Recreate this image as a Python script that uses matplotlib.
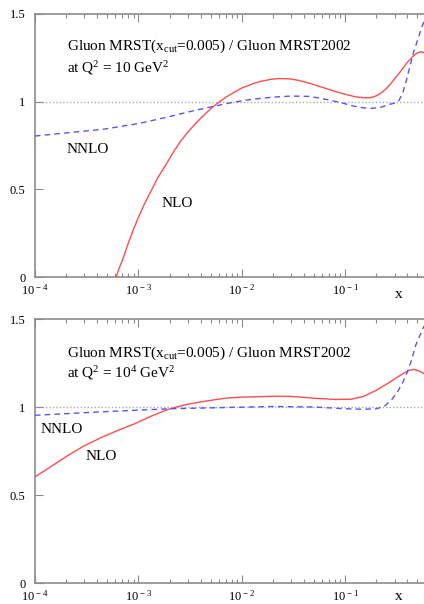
import numpy as np
import matplotlib
matplotlib.use("Agg")
import matplotlib.pyplot as plt
from matplotlib.ticker import FixedLocator, LogLocator, FuncFormatter, NullLocator

plt.rcParams['font.family'] = ['Liberation Serif', 'DejaVu Serif']
plt.rcParams['mathtext.fontset'] = 'custom'
plt.rcParams['mathtext.rm'] = 'Liberation Serif'
plt.rcParams['mathtext.it'] = 'Liberation Serif:italic'

# top panel, Q^2 = 10 GeV^2
nlo_x_top = [6.1e-4, 6.5e-4, 7e-4, 8e-4, 9e-4, 1e-3, 1.15e-3, 1.35e-3, 1.55e-3, 1.8e-3,
             2.24e-3, 2.6e-3, 3e-3, 3.5e-3, 4e-3, 4.6e-3, 5.2e-3, 6e-3, 7e-3, 8.5e-3,
             1e-2, 1.25e-2, 1.5e-2, 1.9e-2, 2.3e-2, 2.9e-2, 3.5e-2, 4.2e-2, 5e-2, 6.3e-2,
             0.08, 0.1, 0.125, 0.153, 0.17, 0.19, 0.21, 0.23, 0.25, 0.278,
             0.30, 0.33, 0.36, 0.40, 0.45, 0.497, 0.54, 0.578]
nlo_y_top = [0.0, 0.05, 0.095, 0.195, 0.275, 0.34, 0.42, 0.50, 0.57, 0.63,
             0.724, 0.78, 0.825, 0.87, 0.905, 0.94, 0.968, 0.997, 1.025, 1.055,
             1.078, 1.10, 1.115, 1.127, 1.132, 1.13, 1.122, 1.11, 1.097, 1.078,
             1.058, 1.042, 1.028, 1.022, 1.022, 1.028, 1.04, 1.056, 1.075, 1.105,
             1.13, 1.16, 1.19, 1.225, 1.258, 1.278, 1.285, 1.28]
nnlo_x_top = [1e-4, 2e-4, 4.5e-4, 1e-3, 2e-3, 3.5e-3, 5.5e-3, 8e-3, 1.2e-2, 2e-2,
              3e-2, 4.5e-2, 6.3e-2, 0.09, 0.12, 0.15, 0.18, 0.22, 0.27, 0.30,
              0.33, 0.36, 0.39, 0.43, 0.46, 0.5, 0.54, 0.578]
nnlo_y_top = [0.804, 0.822, 0.842, 0.875, 0.915, 0.95, 0.975, 0.995, 1.012, 1.026,
              1.032, 1.03, 1.015, 0.995, 0.975, 0.965, 0.962, 0.968, 0.985, 0.992,
              1.005, 1.05, 1.12, 1.22, 1.285, 1.35, 1.41, 1.46]

# bottom panel, Q^2 = 10^4 GeV^2
nlo_x_bot = [1e-4, 1.5e-4, 2.1e-4, 3e-4, 4.5e-4, 6.5e-4, 9.3e-4, 1.35e-3, 1.95e-3, 2.8e-3,
             4.1e-3, 6.9e-3, 1e-2, 2e-2, 3e-2, 5e-2, 8e-2, 0.114, 0.15, 0.2,
             0.26, 0.32, 0.40, 0.46, 0.52, 0.578]
nlo_y_bot = [0.603, 0.67, 0.726, 0.78, 0.83, 0.87, 0.906, 0.95, 0.987, 1.012,
             1.03, 1.05, 1.056, 1.061, 1.06, 1.05, 1.043, 1.044, 1.06, 1.095,
             1.135, 1.17, 1.205, 1.214, 1.205, 1.19]
nnlo_x_bot = [1e-4, 4.5e-4, 2e-3, 6.9e-3, 2e-2, 5e-2, 0.1, 0.15, 0.2, 0.24,
              0.28, 0.32, 0.36, 0.40, 0.44, 0.48, 0.53, 0.578]
nnlo_y_bot = [0.953, 0.973, 0.99, 0.997, 1.003, 1.0, 0.99, 0.987, 0.99, 1.005,
              1.04, 1.085, 1.14, 1.2, 1.27, 1.35, 1.41, 1.46]

y_ticks = [0, 0.5, 1, 1.5]
y_labels = ["0", "0.5", "1", "1.5"]
x_decades = [1e-4, 1e-3, 1e-2, 1e-1]

fig = plt.figure(figsize=(4.24, 6.04), dpi=100)
W, H = 424, 604

def make_ax(top_px, bot_px):
    return fig.add_axes([35 / W, 1 - bot_px / H, 1 - 35 / W, (bot_px - top_px) / H])

ax1 = make_ax(14, 277)
ax2 = make_ax(319, 583)

red = '#ff4d4d'
blue = '#5555ff'
grey = '#8c8c8c'

panels = [
    (ax1, nlo_x_top, nlo_y_top, nnlo_x_top, nnlo_y_top, "10", (0.471, 0.082), (0.266, 0.326),
     (0.863, 0.779), -0.078),
    (ax2, nlo_x_bot, nlo_y_bot, nnlo_x_bot, nnlo_y_bot, "10$^4$", (0.568, 0.013), (0.466, 0.129),
     (0.856, 0.780), -0.064),
]

for ax, nx, ny, nnx, nny, q2, nnlo_pos, nlo_pos, title_y, xlab_y in panels:
    ax.set_xscale('log')
    ax.set_xlim(1e-4, 0.578)
    ax.set_ylim(0, 1.5)
    ax.axhline(1.0, color='#aaaaaa', lw=1.0, ls=(0, (1, 1.5)), zorder=1)
    ax.plot(nx, ny, color=red, lw=1.0, zorder=3)
    ax.plot(nnx, nny, color=blue, lw=1.0, ls=(0, (4, 3)), zorder=3)

    ax.spines['right'].set_visible(False)
    for s in ['left', 'bottom', 'top']:
        ax.spines[s].set_color(grey)
        ax.spines[s].set_linewidth(1.2)

    ax.xaxis.set_major_locator(FixedLocator(x_decades))
    ax.xaxis.set_minor_locator(LogLocator(base=10, subs=np.arange(2, 10)))
    ax.xaxis.set_major_formatter(FuncFormatter(
        lambda v, p: "10$^{\\,%d}$" % int(round(np.log10(v)))))
    ax.xaxis.set_minor_formatter(FuncFormatter(lambda v, p: ""))
    ax.yaxis.set_major_locator(FixedLocator(y_ticks))
    ax.yaxis.set_minor_locator(NullLocator())
    ax.set_yticklabels(y_labels)
    ax.tick_params(axis='x', which='major', direction='in', length=6, width=0.8,
                   color=grey, top=True, labelsize=9, pad=4.5)
    ax.tick_params(axis='x', which='minor', direction='in', length=2.6, width=0.8,
                   color=grey, top=True)
    ax.tick_params(axis='y', which='major', direction='in', length=6, width=0.8,
                   color=grey, labelsize=9, pad=7)

    ax.text(0.082, title_y[0], "Gluon MRST(x$_{\\mathrm{cut}}$=0.005) / Gluon MRST2002",
            transform=ax.transAxes, fontsize=11, va='baseline')
    ax.text(0.082, title_y[1], "at Q$^2$ = " + q2 + " GeV$^2$",
            transform=ax.transAxes, fontsize=11, va='baseline')
    ax.text(nnlo_pos[1], nnlo_pos[0], "NNLO", transform=ax.transAxes, fontsize=11, va='baseline')
    ax.text(nlo_pos[1], nlo_pos[0], "NLO", transform=ax.transAxes, fontsize=11, va='baseline')
    ax.text(0.936, xlab_y, "x", transform=ax.transAxes, fontsize=11, va='baseline', ha='center')

fig.savefig("out.png", dpi=100)
